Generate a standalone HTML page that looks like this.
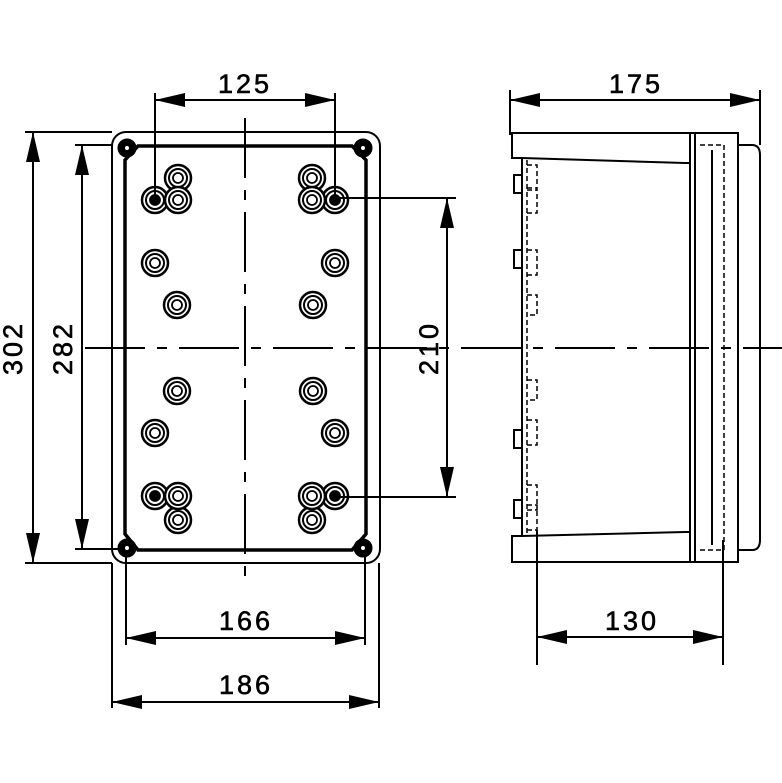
<!DOCTYPE html>
<html><head><style>html,body{margin:0;padding:0;background:#fff}svg{display:block}</style></head><body>
<svg width="782" height="783" viewBox="0 0 782 783" xmlns="http://www.w3.org/2000/svg">
<defs>
<marker id="a" markerWidth="30" markerHeight="14" refX="30" refY="7" orient="auto" markerUnits="userSpaceOnUse"><path d="M0,0 L30,7 L0,14 Z" fill="#000"/></marker>
<marker id="b" markerWidth="30" markerHeight="14" refX="0" refY="7" orient="auto" markerUnits="userSpaceOnUse"><path d="M30,0 L0,7 L30,14 Z" fill="#000"/></marker>
<g id="g"><circle r="13" fill="#fff" stroke="#000" stroke-width="2.5"/><circle r="9" fill="none" stroke="#000" stroke-width="2"/><circle r="5" fill="none" stroke="#000" stroke-width="1.8"/></g>
<g id="s"><circle r="9" fill="#000"/><circle r="2.5" fill="#fff"/></g>
</defs>
<g stroke="#000" fill="none" font-family="Liberation Sans, sans-serif">
<line x1="85" y1="348" x2="782" y2="348" stroke-width="2" stroke-dasharray="60,12,10,12"/>
<line x1="245" y1="118" x2="245" y2="580" stroke-width="2" stroke-dasharray="60,12,10,12"/>
<rect x="112" y="132" width="268" height="431" rx="14" stroke-width="2"/>
<path d="M138,146 H352 L366,160 V534 L352,550 H138 L125,534 V160 Z" stroke-width="3.5"/>
<use href="#s" x="127" y="148"/><use href="#s" x="363" y="148"/><use href="#s" x="127" y="548"/><use href="#s" x="363" y="548"/>
<use href="#g" x="178" y="178"/><use href="#g" x="155" y="200"/><use href="#g" x="178" y="200"/>
<use href="#g" x="155" y="263"/><use href="#g" x="177" y="305"/>
<use href="#g" x="312" y="178"/><use href="#g" x="335" y="200"/><use href="#g" x="312" y="200"/>
<use href="#g" x="335" y="263"/><use href="#g" x="313" y="305"/>
<use href="#g" x="178" y="520"/><use href="#g" x="155" y="496"/><use href="#g" x="178" y="496"/>
<use href="#g" x="155" y="433"/><use href="#g" x="177" y="391"/>
<use href="#g" x="312" y="520"/><use href="#g" x="335" y="496"/><use href="#g" x="312" y="496"/>
<use href="#g" x="335" y="433"/><use href="#g" x="313" y="391"/>
<circle cx="155" cy="200" r="4" fill="#000"/><circle cx="335" cy="200" r="4" fill="#000"/>
<circle cx="155" cy="496" r="4" fill="#000"/><circle cx="335" cy="496" r="4" fill="#000"/>
<g stroke-width="2">
<line x1="155" y1="93" x2="155" y2="200"/><line x1="335" y1="93" x2="335" y2="200"/>
<line x1="155" y1="100" x2="335" y2="100" marker-start="url(#b)" marker-end="url(#a)"/>
<line x1="25" y1="132" x2="112" y2="132"/><line x1="25" y1="563" x2="112" y2="563"/>
<line x1="33" y1="132" x2="33" y2="563" marker-start="url(#b)" marker-end="url(#a)"/>
<line x1="75" y1="145" x2="112" y2="145"/><line x1="75" y1="549" x2="118" y2="549"/>
<line x1="82" y1="145" x2="82" y2="549" marker-start="url(#b)" marker-end="url(#a)"/>
<line x1="335" y1="198" x2="456" y2="198"/><line x1="335" y1="497" x2="456" y2="497"/>
<line x1="447" y1="198" x2="447" y2="497" marker-start="url(#b)" marker-end="url(#a)"/>
<line x1="126" y1="550" x2="126" y2="645"/><line x1="365" y1="550" x2="365" y2="645"/>
<line x1="126" y1="638" x2="365" y2="638" marker-start="url(#b)" marker-end="url(#a)"/>
<line x1="112" y1="563" x2="112" y2="708"/><line x1="379" y1="563" x2="379" y2="708"/>
<line x1="112" y1="702" x2="379" y2="702" marker-start="url(#b)" marker-end="url(#a)"/>
<line x1="510" y1="90" x2="510" y2="135"/><line x1="760" y1="90" x2="760" y2="145"/>
<line x1="510" y1="100" x2="760" y2="100" marker-start="url(#b)" marker-end="url(#a)"/>
<line x1="537" y1="530" x2="537" y2="665"/><line x1="723" y1="540" x2="723" y2="665"/>
<line x1="537" y1="637" x2="723" y2="637" marker-start="url(#b)" marker-end="url(#a)"/>
</g>
<g stroke-width="2">
<path d="M512,133 H690 V163 L685,163 L522,158 H512 Z"/>
<path d="M512,562 H690 V532 L685,532 L522,536 H512 Z"/>
<line x1="522" y1="158" x2="522" y2="536"/>
<rect x="690" y="133" width="48" height="429"/>
<line x1="695" y1="133" x2="695" y2="562"/>
<line x1="712" y1="150" x2="712" y2="545"/>
<path d="M738,145 H752 Q760,145 760,155 V540 Q760,550 752,550 H738"/>
<path d="M522,175 h-8 v18 h8 M522,250 h-8 v18 h8 M522,430 h-8 v18 h8 M522,500 h-8 v18 h8"/>
</g>
<g stroke-width="1.5" stroke-dasharray="5,3">
<line x1="724" y1="145" x2="724" y2="550"/>
<path d="M700,145 H724 M700,550 H724"/>
<line x1="527" y1="160" x2="527" y2="535"/>
<path d="M527,165 h10 v25 h-10 M527,188 h10 v25 h-10 M527,250 h10 v25 h-10 M527,295 h10 v20 h-10 M527,380 h10 v20 h-10 M527,420 h10 v25 h-10 M527,485 h10 v25 h-10 M527,505 h10 v25 h-10"/>
</g>
</g>
<g font-family="Liberation Sans, sans-serif" font-size="27" fill="#000" stroke="#000" stroke-width="0.6" text-anchor="middle" letter-spacing="3">
<text x="245" y="93">125</text>
<text x="636" y="93">175</text>
<text x="246" y="630">166</text>
<text x="246" y="694">186</text>
<text x="632" y="630">130</text>
<text transform="translate(22,348) rotate(-90)">302</text>
<text transform="translate(72,348) rotate(-90)">282</text>
<text transform="translate(438,348) rotate(-90)">210</text>
</g>
</svg>
</body></html>
